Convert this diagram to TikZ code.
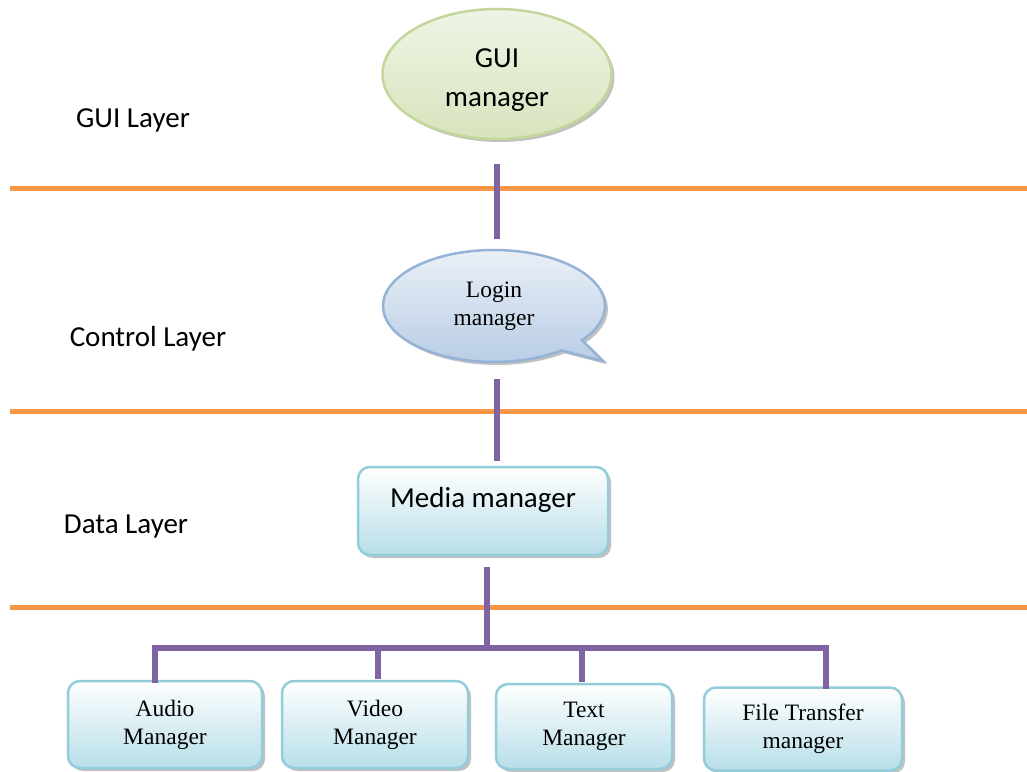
\documentclass[tikz,border=0pt]{standalone}
\usepackage{fontspec}
\usetikzlibrary{shapes.geometric,shapes.callouts,shadows}
\newfontfamily\carl{Carlito}
\newfontfamily\tnr{Liberation Serif}
\definecolor{orangeL}{HTML}{F79646}
\definecolor{purpleL}{HTML}{8064A2}
\definecolor{boxB}{HTML}{92CDDC}
\definecolor{boxF}{HTML}{B7DEE8}
\definecolor{guiB}{HTML}{C3D69B}
\definecolor{guiF}{HTML}{D7E4BD}
\definecolor{logB}{HTML}{95B3D7}
\definecolor{logF}{HTML}{B9CDE5}
\tikzset{
  layerline/.style={draw=orangeL, line width=5pt},
  conn/.style={draw=purpleL, line width=6pt},
  shad/.style={drop shadow={shadow xshift=3pt, shadow yshift=-3pt, fill=black!40, opacity=0.6}},
  box/.style={rounded corners=12pt, draw=boxB, line width=2.5pt, top color=white, bottom color=boxF, shad, inner sep=0pt},
  bigtxt/.style={font=\carl\fontsize{29}{39}\selectfont, align=center},
  smalltxt/.style={font=\tnr\fontsize{23.5}{28}\selectfont, align=center},
  laytxt/.style={font=\carl\fontsize{29}{35}\selectfont},
}
\begin{document}
\begin{tikzpicture}[x=1pt,y=-1pt]
\useasboundingbox (0,0) rectangle (1027,771);
\fill[white] (0,0) rectangle (1027,771);
% layer separators
\coordinate (l1a) at (10,188); \coordinate (l1b) at (1027,188);
\coordinate (l2a) at (10,411); \coordinate (l2b) at (1027,411);
\coordinate (l3a) at (10,607); \coordinate (l3b) at (1027,607);
\draw[layerline] (l1a) -- (l1b);
\draw[layerline] (l2a) -- (l2b);
\draw[layerline] (l3a) -- (l3b);
% layer labels
\node[laytxt] (lg) at (133,120) {GUI Layer};
\node[laytxt] (lc) at (148,339) {Control Layer};
\node[laytxt] (ld) at (126,527) {Data Layer};
% GUI manager
\node[ellipse, minimum width=229pt, minimum height=130pt, draw=guiB, line width=2.5pt, top color=white!60!guiF, bottom color=guiF, shad, inner sep=0pt] (gui) at (497,74) {};
\node[bigtxt] (guit) at (497,80) {GUI\\manager};
% Login manager callout
\node[ellipse callout, callout absolute pointer={(603,361)}, minimum width=222pt, minimum height=112pt, draw=logB, line width=2.5pt, top color=white!70!logF, bottom color=logF, shad, inner sep=0pt, smalltxt] (login) at (494,306) {Login\\manager};
% Media manager
\node[box, minimum width=250pt, minimum height=88pt] (media) at (483,511) {};
\node[bigtxt] (mediat) at (483,500) {Media manager};
% bottom boxes
\node[box, minimum width=194pt, minimum height=87pt, smalltxt] (audio) at (165,724.5) {Audio\\Manager};
\node[box, minimum width=186pt, minimum height=87pt, smalltxt] (video) at (375,724.5) {Video\\Manager};
\node[box, minimum width=176pt, minimum height=85pt, smalltxt] (text) at (584,726.5) {Text\\Manager};
\node[box, minimum width=198pt, minimum height=83pt, smalltxt] (file) at (803,729) {File Transfer\\manager};
% connectors
\draw[conn, shorten <=24pt, shorten >=10pt] (gui.south) -- (gui.south |- login.north);
\draw[conn, shorten <=16pt, shorten >=5pt] (login.south -| gui.south) -- (gui.south |- media.north);
\coordinate (bus) at (487,648);
\coordinate (da) at (155,648);
\coordinate (dv) at (378,648);
\coordinate (dt) at (582,648);
\coordinate (df) at (826,648);
\draw[conn, shorten <=11pt] (media.south -| bus) -- (bus);
\draw[conn, line cap=rect, line join=miter] (da |- audio.north) -- (da) -- (df) -- (df |- file.north);
\draw[conn, shorten >=1pt] (dv) -- (dv |- video.north);
\draw[conn, shorten >=1pt] (dt) -- (dt |- text.north);
\end{tikzpicture}
\end{document}
